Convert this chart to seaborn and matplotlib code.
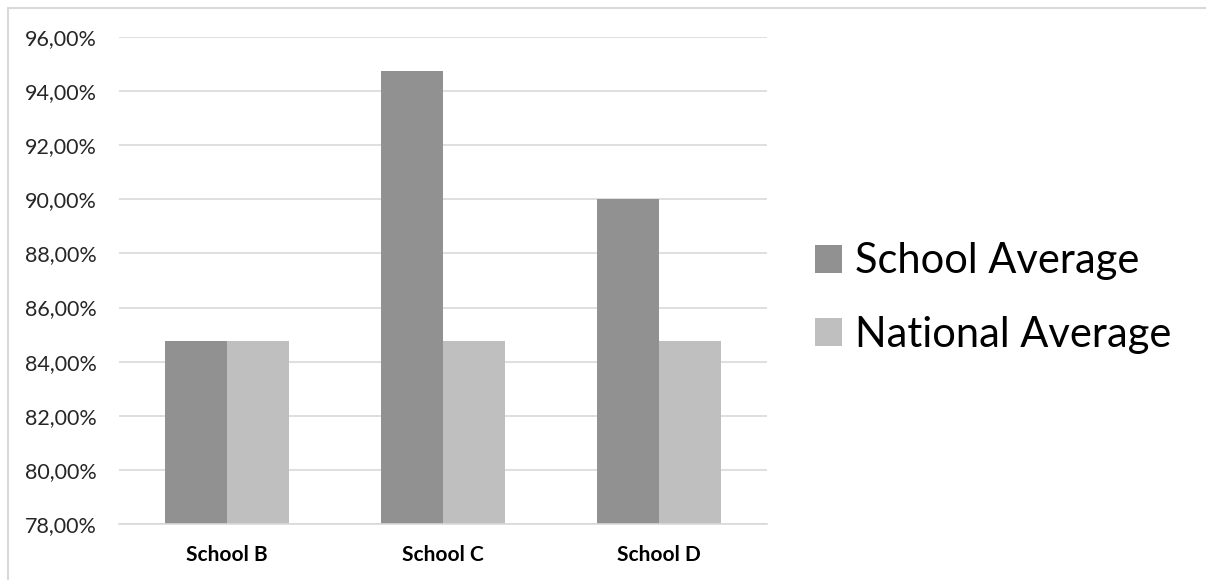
import matplotlib
matplotlib.use("Agg")
import matplotlib.pyplot as plt
from matplotlib.ticker import FuncFormatter, MultipleLocator
from matplotlib.lines import Line2D
import seaborn as sns
import pandas as pd

schools = ["School B", "School C", "School D"]
series = ["School Average", "National Average"]
school_avg = [84.75, 94.75, 90.00]
national_avg = [84.75, 84.75, 84.75]
colors = ["#919191", "#bfbfbf"]

df = pd.DataFrame({
    "school": schools * 2,
    "series": [series[0]] * 3 + [series[1]] * 3,
    "value": school_avg + national_avg,
})

sns.set_theme(style="white")
plt.rcParams["font.family"] = ["Lato", "DejaVu Sans"]

fig = plt.figure(figsize=(12.06, 5.80), dpi=100)
ax = fig.add_axes([119 / 1206, 1 - 524 / 580, (767 - 119) / 1206, (524 - 37) / 580])

sns.barplot(data=df, x="school", y="value", hue="series", palette=colors,
            width=0.57, ax=ax, saturation=1, linewidth=0, edgecolor="none")

ax.set_ylim(78, 96)
ax.yaxis.set_major_locator(MultipleLocator(2))
ax.yaxis.set_major_formatter(FuncFormatter(lambda v, p: f"{v:.2f}".replace(".", ",") + "%"))
ax.grid(axis="y", color="#d9d9d9", linewidth=1.2)
ax.set_axisbelow(True)
for s in ["top", "right", "left"]:
    ax.spines[s].set_visible(False)
ax.spines["bottom"].set_color("#d9d9d9")
ax.spines["bottom"].set_linewidth(1.2)
ax.tick_params(axis="y", length=0, pad=16, labelsize=15.5, labelcolor="#262626")
ax.tick_params(axis="x", length=0, pad=15, labelsize=15, labelcolor="#000000")
for t in ax.get_xticklabels():
    t.set_fontweight("bold")
ax.set_xlabel("")
ax.set_ylabel("")

handles, labels = ax.get_legend_handles_labels()
ax.legend(handles, labels, loc="center left", bbox_to_anchor=(815 / 1206, 1 - 298 / 580),
          bbox_transform=fig.transFigure, frameon=False, fontsize=30, labelcolor="#000000",
          handlelength=0.65, handleheight=0.65, handletextpad=0.31,
          labelspacing=0.85, borderpad=0, borderaxespad=0)

fig.add_artist(Line2D([8 / 1206, 8 / 1206], [0, 1 - 8 / 580], color="#d9d9d9", linewidth=1.5,
                      transform=fig.transFigure))
fig.add_artist(Line2D([8 / 1206, 1], [1 - 8 / 580, 1 - 8 / 580], color="#d9d9d9", linewidth=1.5,
                      transform=fig.transFigure))

fig.savefig("out.png", dpi=100, facecolor="white")
